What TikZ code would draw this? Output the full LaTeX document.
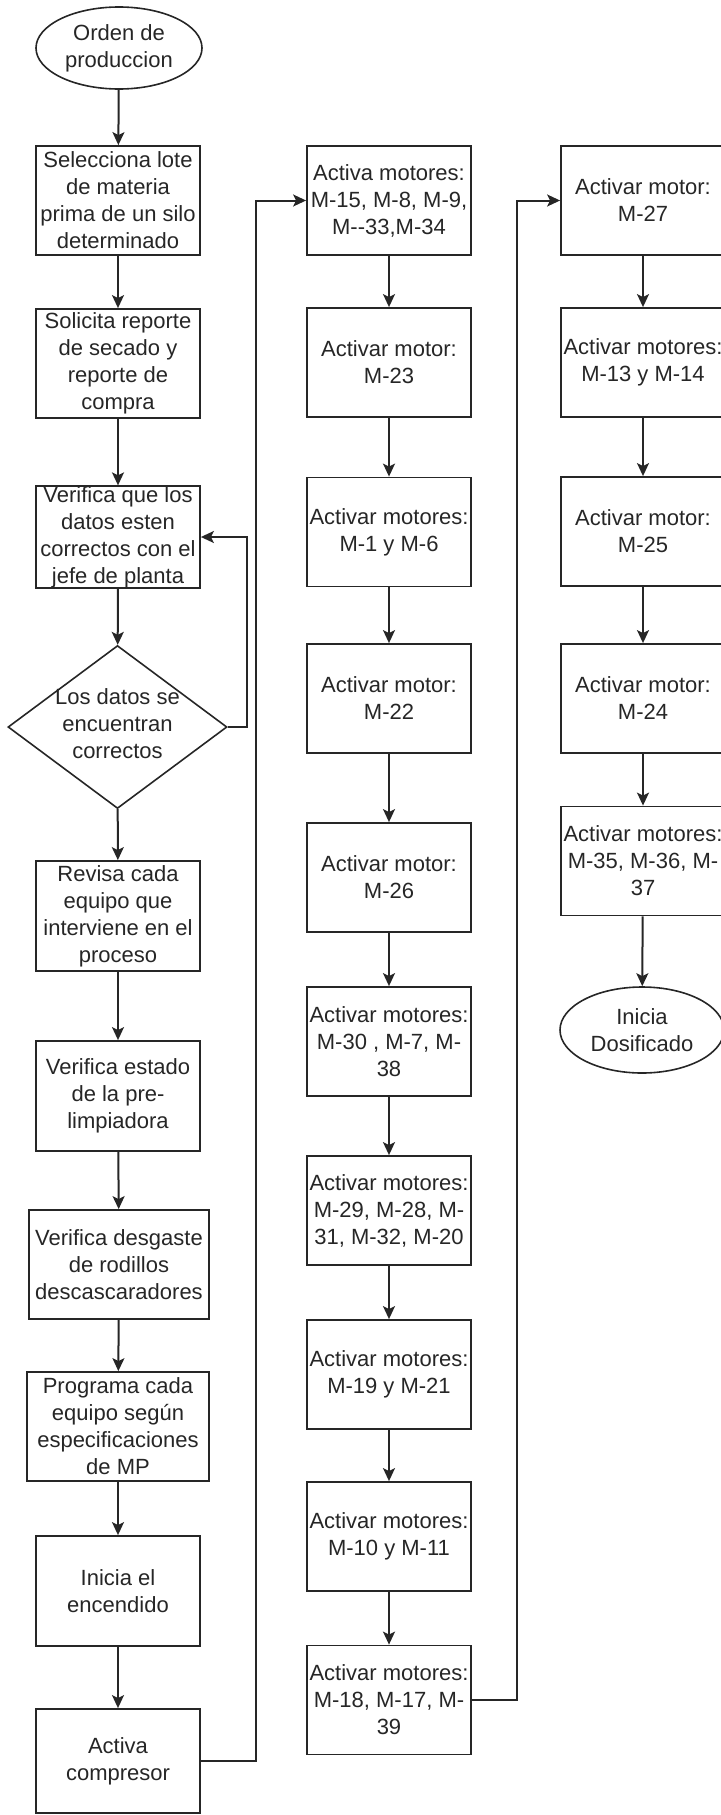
\documentclass[tikz,border=0pt]{standalone}
\usepackage{fontspec}
\setmainfont{Liberation Sans}
\usetikzlibrary{shapes.geometric,arrows.meta}
\begin{document}
\begin{tikzpicture}
    [x=0.5pt,y=-0.5pt,
     every node/.style={align=center,inner sep=0pt,text=black!85,font=\fontsize{11}{13.5}\selectfont},
     caja/.style={rectangle,draw=black!85,line width=0.9pt,minimum width=82pt,minimum height=54.5pt},
     terminal/.style={ellipse,draw=black!85,line width=0.8pt,minimum width=83pt,minimum height=41pt},
     decision/.style={diamond,draw=black!85,line width=0.8pt,minimum width=109.5pt,minimum height=81.5pt},
     flecha/.style={draw=black!85,line width=1pt,-{Stealth[length=6.5pt,width=6pt,inset=1.5pt]}}]
    \clip (0,0) rectangle (721,1815);

    % primera columna
    \node[terminal] (orden) at (119,48) {Orden de\\produccion};
    \node[caja] (lote) at (118,200.5) {Selecciona lote\\de materia\\prima de un silo\\determinado};
    \node[caja] (reporte) at (118,363.5) {Solicita reporte\\de secado y\\reporte de\\compra};
    \node[caja,minimum height=50pt] (datos) at (118,537) {Verifica que los\\datos esten\\correctos con el\\jefe de planta};
    \node[decision] (correctos) at (117.5,727) {};
    \node (pregunta) at (117.5,724) {Los datos se\\encuentran\\correctos};
    \node[caja,minimum height=55pt] (revisa) at (118,916) {Revisa cada\\equipo que\\interviene en el\\proceso};
    \node[caja,minimum height=55pt] (limpia) at (118,1096) {Verifica estado\\de la pre-\\limpiadora};
    \node[caja,minimum width=90pt] (rodillos) at (119,1264.5) {Verifica desgaste\\de rodillos\\descascaradores};
    \node[caja,minimum width=91pt] (programa) at (118,1426.5) {Programa cada\\equipo según\\especificaciones\\de MP};
    \node[caja,minimum height=55pt] (encendido) at (118,1591) {Inicia el\\encendido};
    \node[caja,minimum height=52pt] (compresor) at (118,1761) {Activa\\compresor};

    % segunda columna
    \node[caja] (m15) at (389,200.5) {Activa motores:\\M-15, M-8, M-9,\\M-{}-33,M-34};
    \node[caja] (m23) at (389,362.5) {Activar motor:\\M-23};
    \node[caja] (m1) at (389,532) {Activar motores:\\M-1 y M-6};
    \node[caja] (m22) at (389,698.5) {Activar motor:\\M-22};
    \node[caja] (m26) at (389,877.5) {Activar motor:\\M-26};
    \node[caja] (m30) at (389,1041.5) {Activar motores:\\M-30 , M-7, M-\\38};
    \node[caja] (m29) at (389,1210.5) {Activar motores:\\M-29, M-28, M-\\31, M-32, M-20};
    \node[caja] (m19) at (389,1374.5) {Activar motores:\\M-19 y M-21};
    \node[caja] (m10) at (389,1536.5) {Activar motores:\\M-10 y M-11};
    \node[caja] (m18) at (389,1700) {Activar motores:\\M-18, M-17, M-\\39};

    % tercera columna
    \node[caja] (m27) at (643,200.5) {Activar motor:\\M-27};
    \node[caja] (m13) at (643,362.5) {Activar motores:\\M-13 y M-14};
    \node[caja] (m25) at (643,531.5) {Activar motor:\\M-25};
    \node[caja] (m24) at (643,698.5) {Activar motor:\\M-24};
    \node[caja] (m35) at (643,861) {Activar motores:\\M-35, M-36, M-\\37};
    \node[terminal,minimum width=82pt,minimum height=43pt] (dosificado) at (642,1030) {Inicia\\Dosificado};

    \foreach \from/\to in {orden/lote, lote/reporte, reporte/datos, datos/correctos, correctos/revisa,
        revisa/limpia, limpia/rodillos, rodillos/programa, programa/encendido, encendido/compresor,
        m15/m23, m23/m1, m1/m22, m22/m26, m26/m30, m30/m29, m29/m19, m19/m10, m10/m18,
        m27/m13, m13/m25, m25/m24, m24/m35, m35/dosificado}
        \draw[flecha] (\from) -- (\to);

    \draw[flecha] (correctos.east) -- ++(19,0) |- (datos.east);
    \draw[flecha] (compresor.east) -- ++(55,0) |- (m15.west);
    \draw[flecha] (m18.east) -- ++(45,0) |- (m27.west);
\end{tikzpicture}
\end{document}
